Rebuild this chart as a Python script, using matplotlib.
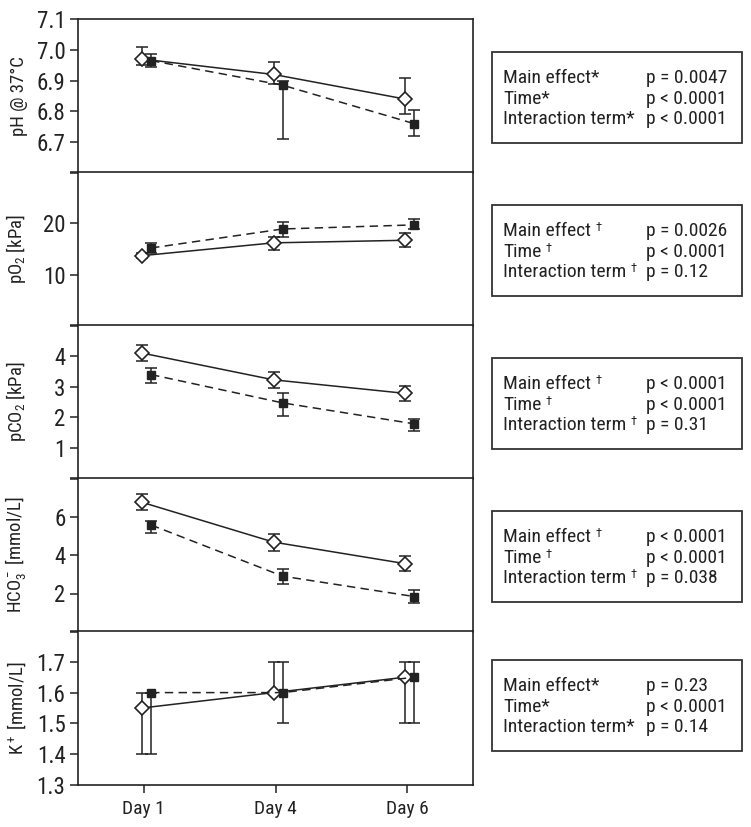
import numpy as np
import matplotlib
matplotlib.use('Agg')
import matplotlib.pyplot as plt
from matplotlib.patches import Rectangle
from matplotlib import font_manager as fm

_avail = {f.name for f in fm.fontManager.ttflist}
FONT = next((f for f in ['Roboto Condensed', 'Archivo Narrow', 'Liberation Sans Narrow',
                         'Liberation Sans'] if f in _avail), 'DejaVu Sans')
plt.rcParams['font.family'] = [FONT, 'Liberation Sans', 'DejaVu Sans']
plt.rcParams['mathtext.fontset'] = 'custom'
plt.rcParams['mathtext.rm'] = FONT
plt.rcParams['mathtext.it'] = FONT + ':italic'
plt.rcParams['mathtext.bf'] = FONT + ':bold'

INK = '#222222'

# ---------------- data ----------------
days = ['Day 1', 'Day 4', 'Day 6']

ylabels = ['pH @ 37°C',
           r'pO$\mathregular{_2}$ [kPa]',
           r'pCO$\mathregular{_2}$ [kPa]',
           r'HCO$\mathregular{_3^-}$ [mmol/L]',
           r'K$\mathregular{^+}$ [mmol/L]']

ylims = [(6.6, 7.1), (0, 30), (0, 5), (0, 8), (1.3, 1.8)]
yticks = [[6.6, 6.7, 6.8, 6.9, 7.0, 7.1],
          [0, 10, 20, 30],
          [0, 1, 2, 3, 4, 5],
          [0, 2, 4, 6, 8],
          [1.3, 1.4, 1.5, 1.6, 1.7, 1.8]]
yticklabels = [['', '6.7', '6.8', '6.9', '7.0', '7.1'],
               ['', '10', '20', ''],
               ['', '1', '2', '3', '4', ''],
               ['', '2', '4', '6', ''],
               ['1.3', '1.4', '1.5', '1.6', '1.7', '']]

# open diamonds (solid line)
open_mean = [[6.97, 6.92, 6.84],
             [13.7, 16.2, 16.7],
             [4.09, 3.22, 2.78],
             [6.74, 4.67, 3.55],
             [1.55, 1.60, 1.65]]
open_lo = [[0.02, 0.03, 0.05],
           [0.5, 1.4, 1.3],
           [0.26, 0.25, 0.26],
           [0.38, 0.47, 0.39],
           [0.15, 0.0, 0.15]]
open_hi = [[0.04, 0.04, 0.07],
           [0.5, 1.1, 1.5],
           [0.27, 0.26, 0.24],
           [0.41, 0.43, 0.39],
           [0.05, 0.10, 0.05]]

# filled squares (dashed line)
fill_mean = [[6.965, 6.885, 6.76],
             [15.2, 18.9, 19.7],
             [3.39, 2.47, 1.79],
             [5.56, 2.90, 1.84],
             [1.60, 1.60, 1.65]]
fill_lo = [[0.02, 0.175, 0.04],
           [1.0, 1.5, 0.9],
           [0.26, 0.41, 0.23],
           [0.44, 0.41, 0.34],
           [0.20, 0.10, 0.15]]
fill_hi = [[0.02, 0.015, 0.045],
           [0.9, 1.4, 1.1],
           [0.21, 0.33, 0.16],
           [0.23, 0.35, 0.36],
           [0.0, 0.10, 0.05]]

stat_terms = ['Main effect', 'Time', 'Interaction term']
stat_marks = ['*', '†', '†', '†', '*']
p_values = [['p = 0.0047', 'p < 0.0001', 'p < 0.0001'],
            ['p = 0.0026', 'p < 0.0001', 'p = 0.12'],
            ['p < 0.0001', 'p < 0.0001', 'p = 0.31'],
            ['p < 0.0001', 'p < 0.0001', 'p = 0.038'],
            ['p = 0.23', 'p < 0.0001', 'p = 0.14']]

# ---------------- layout ----------------
W, H = 751, 827
fig = plt.figure(figsize=(W / 100, H / 100), dpi=100)
renderer = fig.canvas.get_renderer()

ax_left, ax_right = 78, 473
panel_tops = [19, 172, 325, 478, 631]
panel_h = 154
box_x0, box_x1 = 492, 742
box_tops = [52, 205, 358, 511, 660]
box_h = 91

FS_BOX = 14
x = np.arange(1, 4)
off_open, off_fill = -0.015, 0.055

for i in range(5):
    top = panel_tops[i]
    ax = fig.add_axes([ax_left / W, 1 - (top + panel_h) / H,
                       (ax_right - ax_left) / W, panel_h / H])
    ax.errorbar(x + off_open, open_mean[i], yerr=[open_lo[i], open_hi[i]],
                fmt='none', ecolor=INK, elinewidth=1.1, capsize=4, capthick=1.1, zorder=2)
    ax.plot(x + off_open, open_mean[i], '-', color=INK, lw=1.1, marker='D', ms=7,
            mfc='white', mec=INK, mew=1.2, zorder=3)
    ax.errorbar(x + off_fill, fill_mean[i], yerr=[fill_lo[i], fill_hi[i]],
                fmt='none', ecolor=INK, elinewidth=1.1, capsize=4, capthick=1.1, zorder=4)
    ax.plot(x + off_fill, fill_mean[i], linestyle=(0, (5.5, 3.5)), color=INK, lw=1.1,
            marker='s', ms=6, mfc=INK, mec=INK, zorder=5)

    ax.set_xlim(0.5, 3.5)
    ax.set_ylim(*ylims[i])
    ax.set_yticks(yticks[i])
    ax.set_yticklabels(yticklabels[i])
    ax.tick_params(axis='y', direction='out', length=6, width=1.1, colors=INK,
                   labelsize=16.5, pad=3)
    for s in ax.spines.values():
        s.set_linewidth(1.2)
        s.set_color(INK)
    if i < 4:
        ax.set_xticks([])
    else:
        ax.set_xticks(x)
        ax.set_xticklabels(days)
        ax.tick_params(axis='x', direction='out', length=6, width=1.1, colors=INK,
                       labelsize=14, pad=5)
    ax.set_ylabel(ylabels[i], fontsize=13.5, color=INK)
    ax.yaxis.set_label_coords(-0.127, 0.5)

    # stats box
    bt = box_tops[i]
    fig.patches.append(Rectangle((box_x0 / W, 1 - (bt + box_h) / H),
                                 (box_x1 - box_x0) / W, box_h / H,
                                 transform=fig.transFigure, fill=False,
                                 edgecolor='#333333', linewidth=1.3))
    for j in range(3):
        mark = stat_marks[i]
        yb = bt + 31 + j * 20.7
        if mark == '*':
            fig.text(503 / W, 1 - yb / H, stat_terms[j] + '*', fontsize=FS_BOX, color=INK,
                     va='baseline', ha='left')
        else:
            t = fig.text(503 / W, 1 - yb / H, stat_terms[j], fontsize=FS_BOX, color=INK,
                         va='baseline', ha='left')
            x_end = t.get_window_extent(renderer).x1
            fig.text((x_end + 4) / W, 1 - (yb - 5) / H, mark, fontsize=9, color=INK,
                     va='baseline', ha='left')
        fig.text(646 / W, 1 - yb / H, p_values[i][j], fontsize=FS_BOX, color=INK,
                 va='baseline', ha='left')

fig.savefig('out.png', dpi=100, facecolor='white')
